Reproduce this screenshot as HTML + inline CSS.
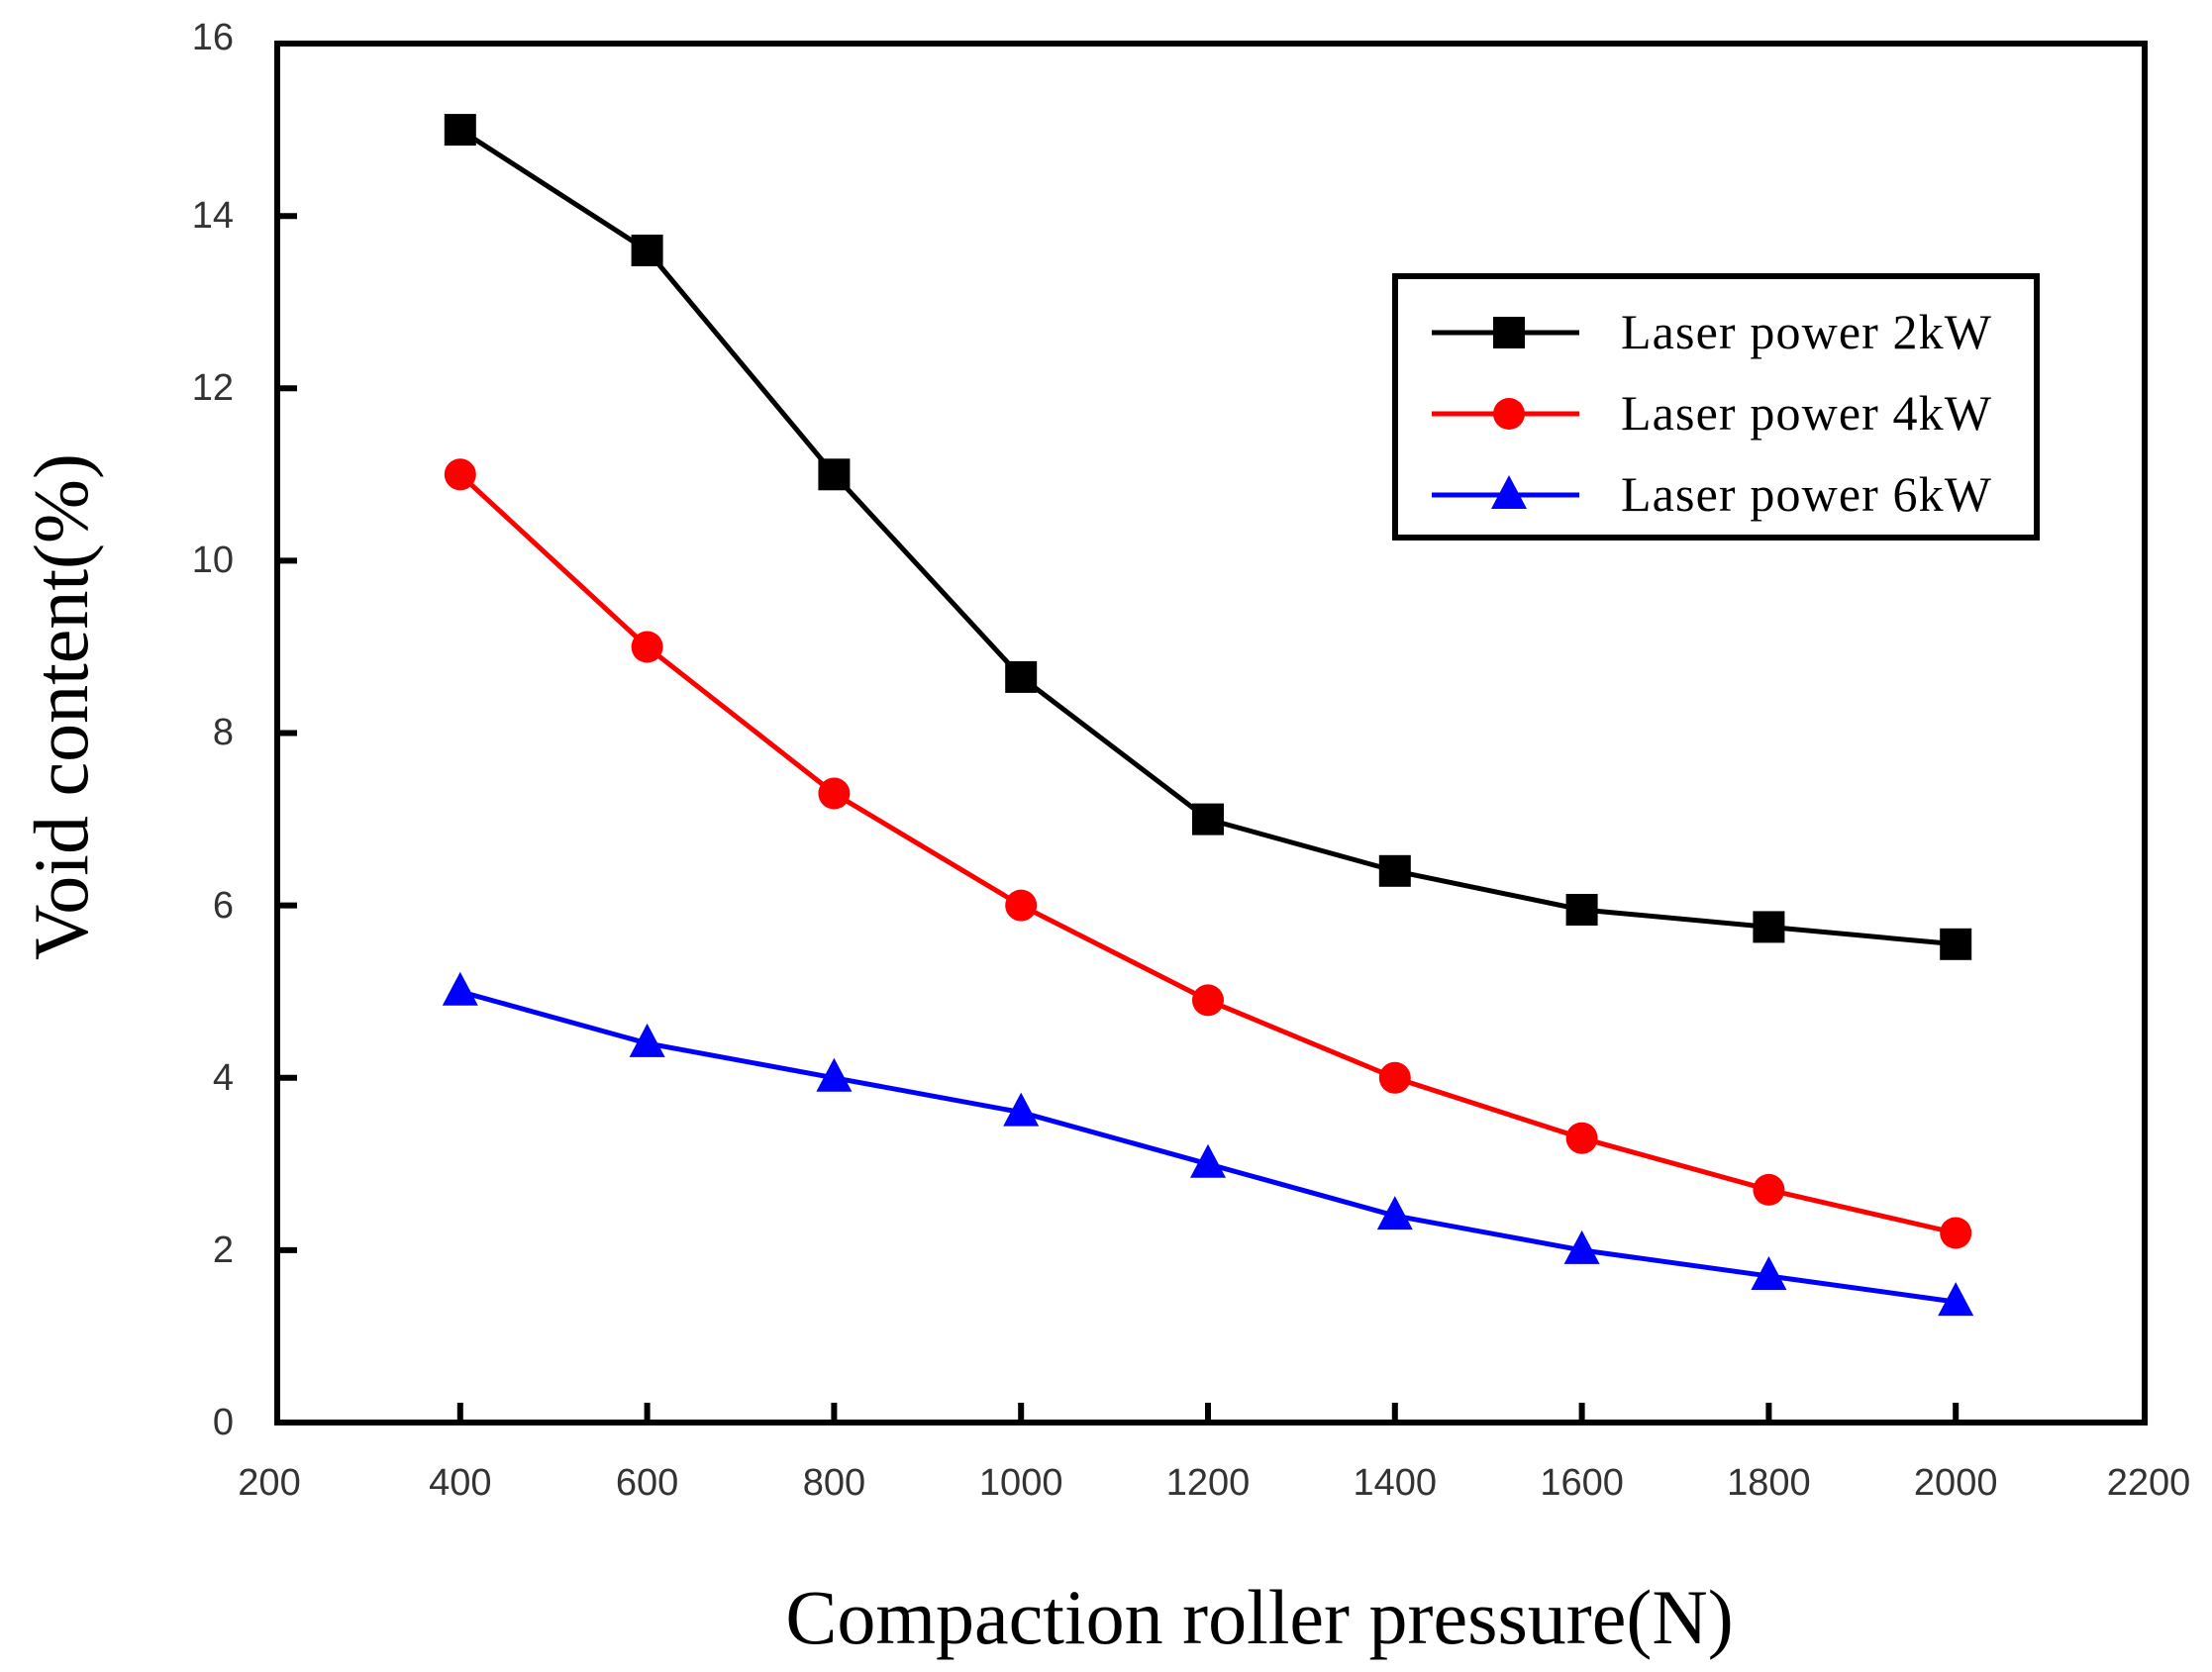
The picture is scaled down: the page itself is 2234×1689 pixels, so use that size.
<!DOCTYPE html>
<html><head><meta charset="utf-8"><style>html,body{margin:0;padding:0;background:#fff}svg{display:block}</style></head>
<body>
<svg width="2234" height="1689" viewBox="0 0 2234 1689" xmlns="http://www.w3.org/2000/svg">
<defs>
<rect id="sq" x="-16" y="-16" width="32" height="32" fill="#000"/>
<circle id="ci" r="16" fill="#f00"/>
<polygon id="tr" points="0,-20 -18,14 18,14" fill="#00f"/>
</defs>
<rect width="2234" height="1689" fill="#fff"/>
<rect x="280" y="44" width="1886" height="1393" fill="none" stroke="#000" stroke-width="6"/>
<g stroke="#000" stroke-width="6">
<line x1="464.8" y1="1437" x2="464.8" y2="1417"/><line x1="653.6" y1="1437" x2="653.6" y2="1417"/>
<line x1="842.4" y1="1437" x2="842.4" y2="1417"/><line x1="1031.2" y1="1437" x2="1031.2" y2="1417"/>
<line x1="1220" y1="1437" x2="1220" y2="1417"/><line x1="1408.8" y1="1437" x2="1408.8" y2="1417"/>
<line x1="1597.6" y1="1437" x2="1597.6" y2="1417"/><line x1="1786.4" y1="1437" x2="1786.4" y2="1417"/>
<line x1="1975.2" y1="1437" x2="1975.2" y2="1417"/>
<line x1="280" y1="218.2" x2="300" y2="218.2"/><line x1="280" y1="392.3" x2="300" y2="392.3"/>
<line x1="280" y1="566.4" x2="300" y2="566.4"/><line x1="280" y1="740.5" x2="300" y2="740.5"/>
<line x1="280" y1="914.6" x2="300" y2="914.6"/><line x1="280" y1="1088.8" x2="300" y2="1088.8"/>
<line x1="280" y1="1262.9" x2="300" y2="1262.9"/>
</g>
<g font-family="Liberation Sans, sans-serif" font-size="38" fill="#333" text-anchor="middle">
<text x="272" y="1510">200</text><text x="464.8" y="1510">400</text><text x="653.6" y="1510">600</text>
<text x="842.4" y="1510">800</text><text x="1031.2" y="1510">1000</text><text x="1220" y="1510">1200</text>
<text x="1408.8" y="1510">1400</text><text x="1597.6" y="1510">1600</text><text x="1786.4" y="1510">1800</text>
<text x="1975.2" y="1510">2000</text><text x="2170" y="1510">2200</text>
</g>
<g font-family="Liberation Sans, sans-serif" font-size="38" fill="#333" text-anchor="end">
<text x="236" y="50">16</text><text x="236" y="230">14</text><text x="236" y="404">12</text>
<text x="236" y="578">10</text><text x="236" y="752">8</text><text x="236" y="927">6</text>
<text x="236" y="1101">4</text><text x="236" y="1275">2</text><text x="236" y="1449">0</text>
</g>
<polyline fill="none" stroke="#000" stroke-width="5" points="464.8,131.1 653.6,253 842.4,479.3 1031.2,683.9 1220,827.6 1408.8,879.8 1597.6,919 1786.4,936.4 1975.2,953.8"/>
<polyline fill="none" stroke="#f00" stroke-width="5" points="464.8,479.3 653.6,653.5 842.4,801.5 1031.2,914.6 1220,1010.4 1408.8,1088.8 1597.6,1149.7 1786.4,1201.9 1975.2,1245.5"/>
<polyline fill="none" stroke="#00f" stroke-width="5" points="464.8,1001.7 653.6,1053.9 842.4,1088.8 1031.2,1123.6 1220,1175.8 1408.8,1228.1 1597.6,1262.9 1786.4,1289 1975.2,1315.1"/>
<use href="#sq" x="464.8" y="131.1"/><use href="#sq" x="653.6" y="253"/><use href="#sq" x="842.4" y="479.3"/>
<use href="#sq" x="1031.2" y="683.9"/><use href="#sq" x="1220" y="827.6"/><use href="#sq" x="1408.8" y="879.8"/>
<use href="#sq" x="1597.6" y="919"/><use href="#sq" x="1786.4" y="936.4"/><use href="#sq" x="1975.2" y="953.8"/>
<use href="#ci" x="464.8" y="479.3"/><use href="#ci" x="653.6" y="653.5"/><use href="#ci" x="842.4" y="801.5"/>
<use href="#ci" x="1031.2" y="914.6"/><use href="#ci" x="1220" y="1010.4"/><use href="#ci" x="1408.8" y="1088.8"/>
<use href="#ci" x="1597.6" y="1149.7"/><use href="#ci" x="1786.4" y="1201.9"/><use href="#ci" x="1975.2" y="1245.5"/>
<use href="#tr" x="464.8" y="1001.7"/><use href="#tr" x="653.6" y="1053.9"/><use href="#tr" x="842.4" y="1088.8"/>
<use href="#tr" x="1031.2" y="1123.6"/><use href="#tr" x="1220" y="1175.8"/><use href="#tr" x="1408.8" y="1228.1"/>
<use href="#tr" x="1597.6" y="1262.9"/><use href="#tr" x="1786.4" y="1289"/><use href="#tr" x="1975.2" y="1315.1"/>
<rect x="1409" y="279" width="648" height="264" fill="#fff" stroke="#000" stroke-width="6"/>
<line x1="1446" y1="336" x2="1595" y2="336" stroke="#000" stroke-width="5"/><use href="#sq" x="1524" y="336"/>
<line x1="1446" y1="418" x2="1595" y2="418" stroke="#f00" stroke-width="5"/><use href="#ci" x="1524" y="418"/>
<line x1="1446" y1="500" x2="1595" y2="500" stroke="#00f" stroke-width="5"/><use href="#tr" x="1524" y="500"/>
<g font-family="Liberation Serif, serif" font-size="50" fill="#000">
<text x="1637" y="352" textLength="374">Laser power 2kW</text>
<text x="1637" y="434" textLength="374">Laser power 4kW</text>
<text x="1637" y="516" textLength="374">Laser power 6kW</text>
</g>
<text x="1272" y="1660" font-family="Liberation Serif, serif" font-size="78" fill="#000" text-anchor="middle">Compaction roller pressure(N)</text>
<text transform="translate(88,714) rotate(-90)" font-family="Liberation Serif, serif" font-size="78" fill="#000" text-anchor="middle">Void content(%)</text>
</svg>
</body></html>
